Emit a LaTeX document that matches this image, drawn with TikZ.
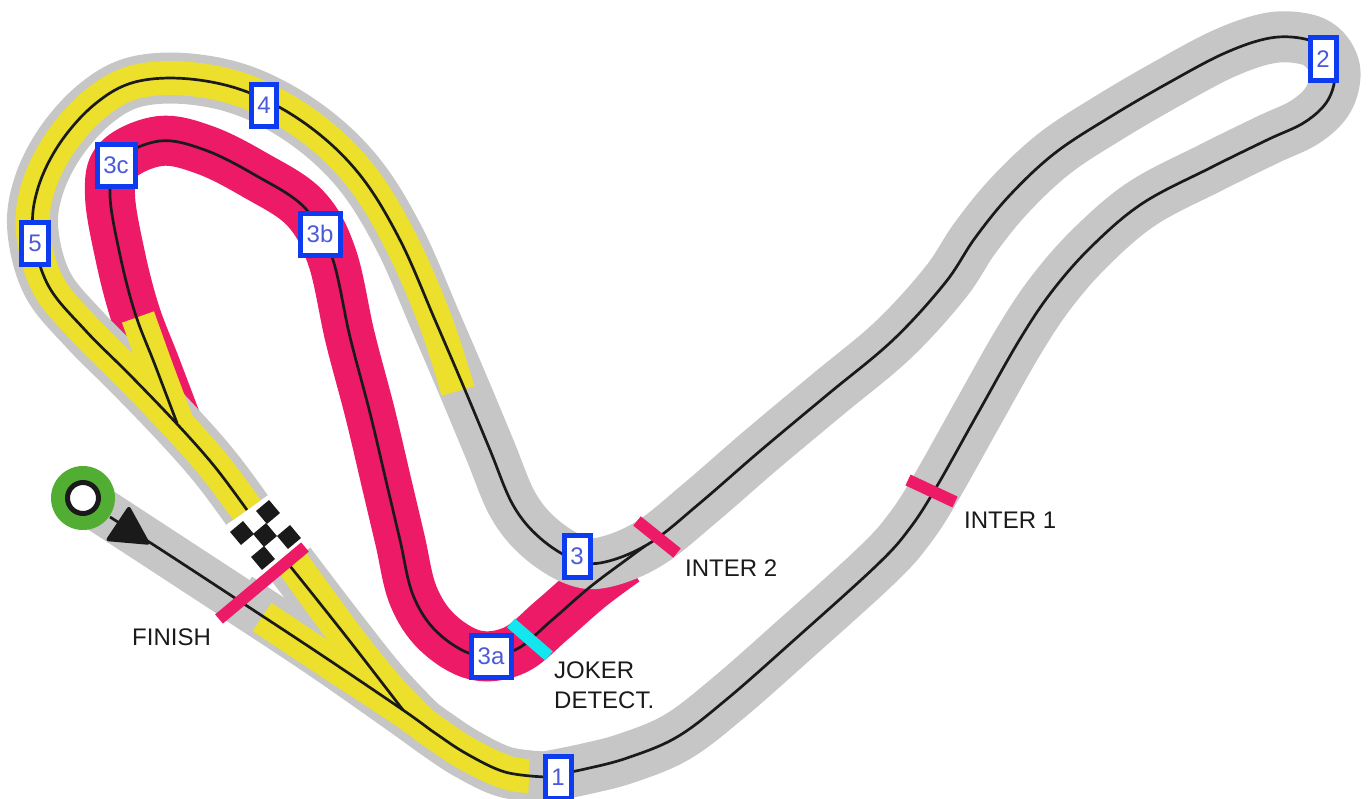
\documentclass[tikz,border=0pt]{standalone}
\usepackage{fontspec}
\setmainfont{Liberation Sans}
\definecolor{trk}{HTML}{C6C6C6}
\definecolor{ylw}{HTML}{ECE02C}
\definecolor{pnk}{HTML}{EC1A67}
\definecolor{cyn}{HTML}{12E6EE}
\definecolor{grn}{HTML}{52AE32}
\definecolor{blu}{HTML}{0D3BF0}
\definecolor{btx}{HTML}{4A5AD8}
\definecolor{blk}{HTML}{1A1A1A}
\def\toone{(403,710)(435,733)(467,754)(505,772)(545,777)}
\def\lefty{(458,391)(435,320)(400,240)(360,175)(310,127)(250,93)(190,79)(135,82)(95,104)(60,143)(38,188)(33,232)(48,285)(85,330)(130,375)(178,425)(215,467)(247,510)}
\def\lap{(545,777)(585,769)(627,758)(677,737)(727,699)(793,641)(877,565)(910,528)(937,486)(978,413)(1020,339)(1053,290)(1093,245)(1143,203)(1210,168)(1267,140)(1305,122)(1328,100)(1335,72)(1325,50)(1305,39)(1270,38)(1225,53)(1170,82)(1110,117)(1055,153)(1010,195)(975,238)(945,283)(893,340)(827,395)(760,451)(700,503)(650,543)(605,562)(575,560)(540,538)(513,505)(490,450)(465,390)(435,320)(400,240)(360,175)(310,127)(250,93)(190,79)(135,82)(95,104)(60,143)(38,188)(33,232)(48,285)(85,330)(130,375)(178,425)(215,467)(247,510)}
\def\jok{(177,423)(155,365)(135,313)(120,255)(110,195)(118,160)(160,141)(205,150)(255,175)(305,208)(332,257)(350,337)(370,413)(387,485)(400,540)(413,595)(437,632)(475,655)(515,650)(552,620)(590,587)}
\tikzset{
  x=1bp,y=-1bp,
  smo/.style={smooth,tension=0.6},
  grey track/.style={draw=trk,line width=51bp,line join=round},
  yellow track/.style={draw=ylw,line width=34bp,line join=round},
  pink track/.style={draw=pnk,line width=50bp,line join=round},
  racing line/.style={draw=blk,line width=2.7bp,line join=round},
  bar/.style={draw=pnk,line width=12bp},
  mk/.style={draw=blu,fill=white,line width=5bp,text=btx,font=\fontsize{24bp}{24bp}\selectfont,inner sep=0pt,minimum height=42bp},
  lab/.style={anchor=west,text=blk,inner sep=0pt,font=\fontsize{24bp}{24bp}\selectfont},
  chk/.style={fill=blk,rotate=40,minimum size=17bp,inner sep=0pt},
}
\begin{document}
\begin{tikzpicture}
\useasboundingbox (0,0) rectangle (1368,798);
% track surfaces
\path[pink track] plot[smo] coordinates {\jok(625,561)};
\path[grey track,line width=46bp] plot[smo] coordinates {(85,500)(160,549)(238,600)(320,654)(403,710)};
\path[grey track] plot[smo] coordinates {(238,598)(320,652)\toone};
\path[grey track] plot[smo] coordinates {(290,563)(345,635)(385,685)(420,722)};
\path[grey track] plot[smo] coordinates {\lap};
% yellow sectors
\path[yellow track] plot[smo] coordinates {\lefty};
\path[yellow track] plot[smo] coordinates {(138,317)(157,370)(177,423)};
\path[yellow track] plot[smo] coordinates {(262,617)(330,662)(403,710)(435,733)(467,754)(505,772)(529,776)};
\path[yellow track] plot[smo] coordinates {(291,561)(345,635)(385,685)(420,722)};
% racing lines
\path[racing line] plot[smo] coordinates {(110,517)(160,549)(238,600)(320,654)\toone};
\path[racing line] plot[smo] coordinates {(290,566)(345,635)(403,710)};
\path[racing line] plot[smo] coordinates {\lap};
\path[racing line] plot[smo] coordinates {\jok(630,557)(645,546)};
% start
\node[circle,fill=grn,minimum size=64bp,inner sep=0pt] (startg) at (83,498) {};
\node[circle,fill=white,draw=blk,line width=5bp,minimum size=31bp,inner sep=0pt] (startw) at (83,498) {};
\fill[blk,rounded corners=3.5bp] (151,545) -- (129,505) -- (105,541) -- cycle;
% checkers
\node[chk] (c1) at (268,512) {};
\node[chk] (c2) at (242,533) {};
\node[chk] (c3) at (265,535) {};
\node[chk] (c4) at (289,537) {};
\node[chk] (c5) at (263,558) {};
% bars
\coordinate (f1) at (219,619); \coordinate (f2) at (305,547);
\coordinate (i1a) at (908,480); \coordinate (i1b) at (955,502);
\coordinate (i2a) at (637,521); \coordinate (i2b) at (677,553);
\coordinate (ja) at (511,623); \coordinate (jb) at (549,656);
\draw[bar] (f1) -- (f2);
\draw[bar] (i1a) -- (i1b);
\draw[bar] (i2a) -- (i2b);
\draw[draw=cyn,line width=12bp] (ja) -- (jb);
% markers
\node[mk,minimum width=26bp] (m1) at (558,777) {1};
\node[mk,minimum width=26bp] (m2) at (1323,59) {2};
\node[mk,minimum width=26bp] (m3) at (577,556) {3};
\node[mk,minimum width=40bp] (m3a) at (491,656) {3a};
\node[mk,minimum width=40bp] (m3b) at (320,234) {3b};
\node[mk,minimum width=38bp] (m3c) at (116,165) {3c};
\node[mk,minimum width=25bp] (m4) at (264,105) {4};
\node[mk,minimum width=27bp] (m5) at (35,243) {5};
% labels
\node[lab] (lf) at (132,637) {FINISH};
\node[lab] (li2) at (685,568) {INTER 2};
\node[lab] (li1) at (964,520) {INTER 1};
\node[lab] (lj1) at (554,670) {JOKER};
\node[lab] (lj2) at (554,700) {DETECT.};
\end{tikzpicture}
\end{document}
